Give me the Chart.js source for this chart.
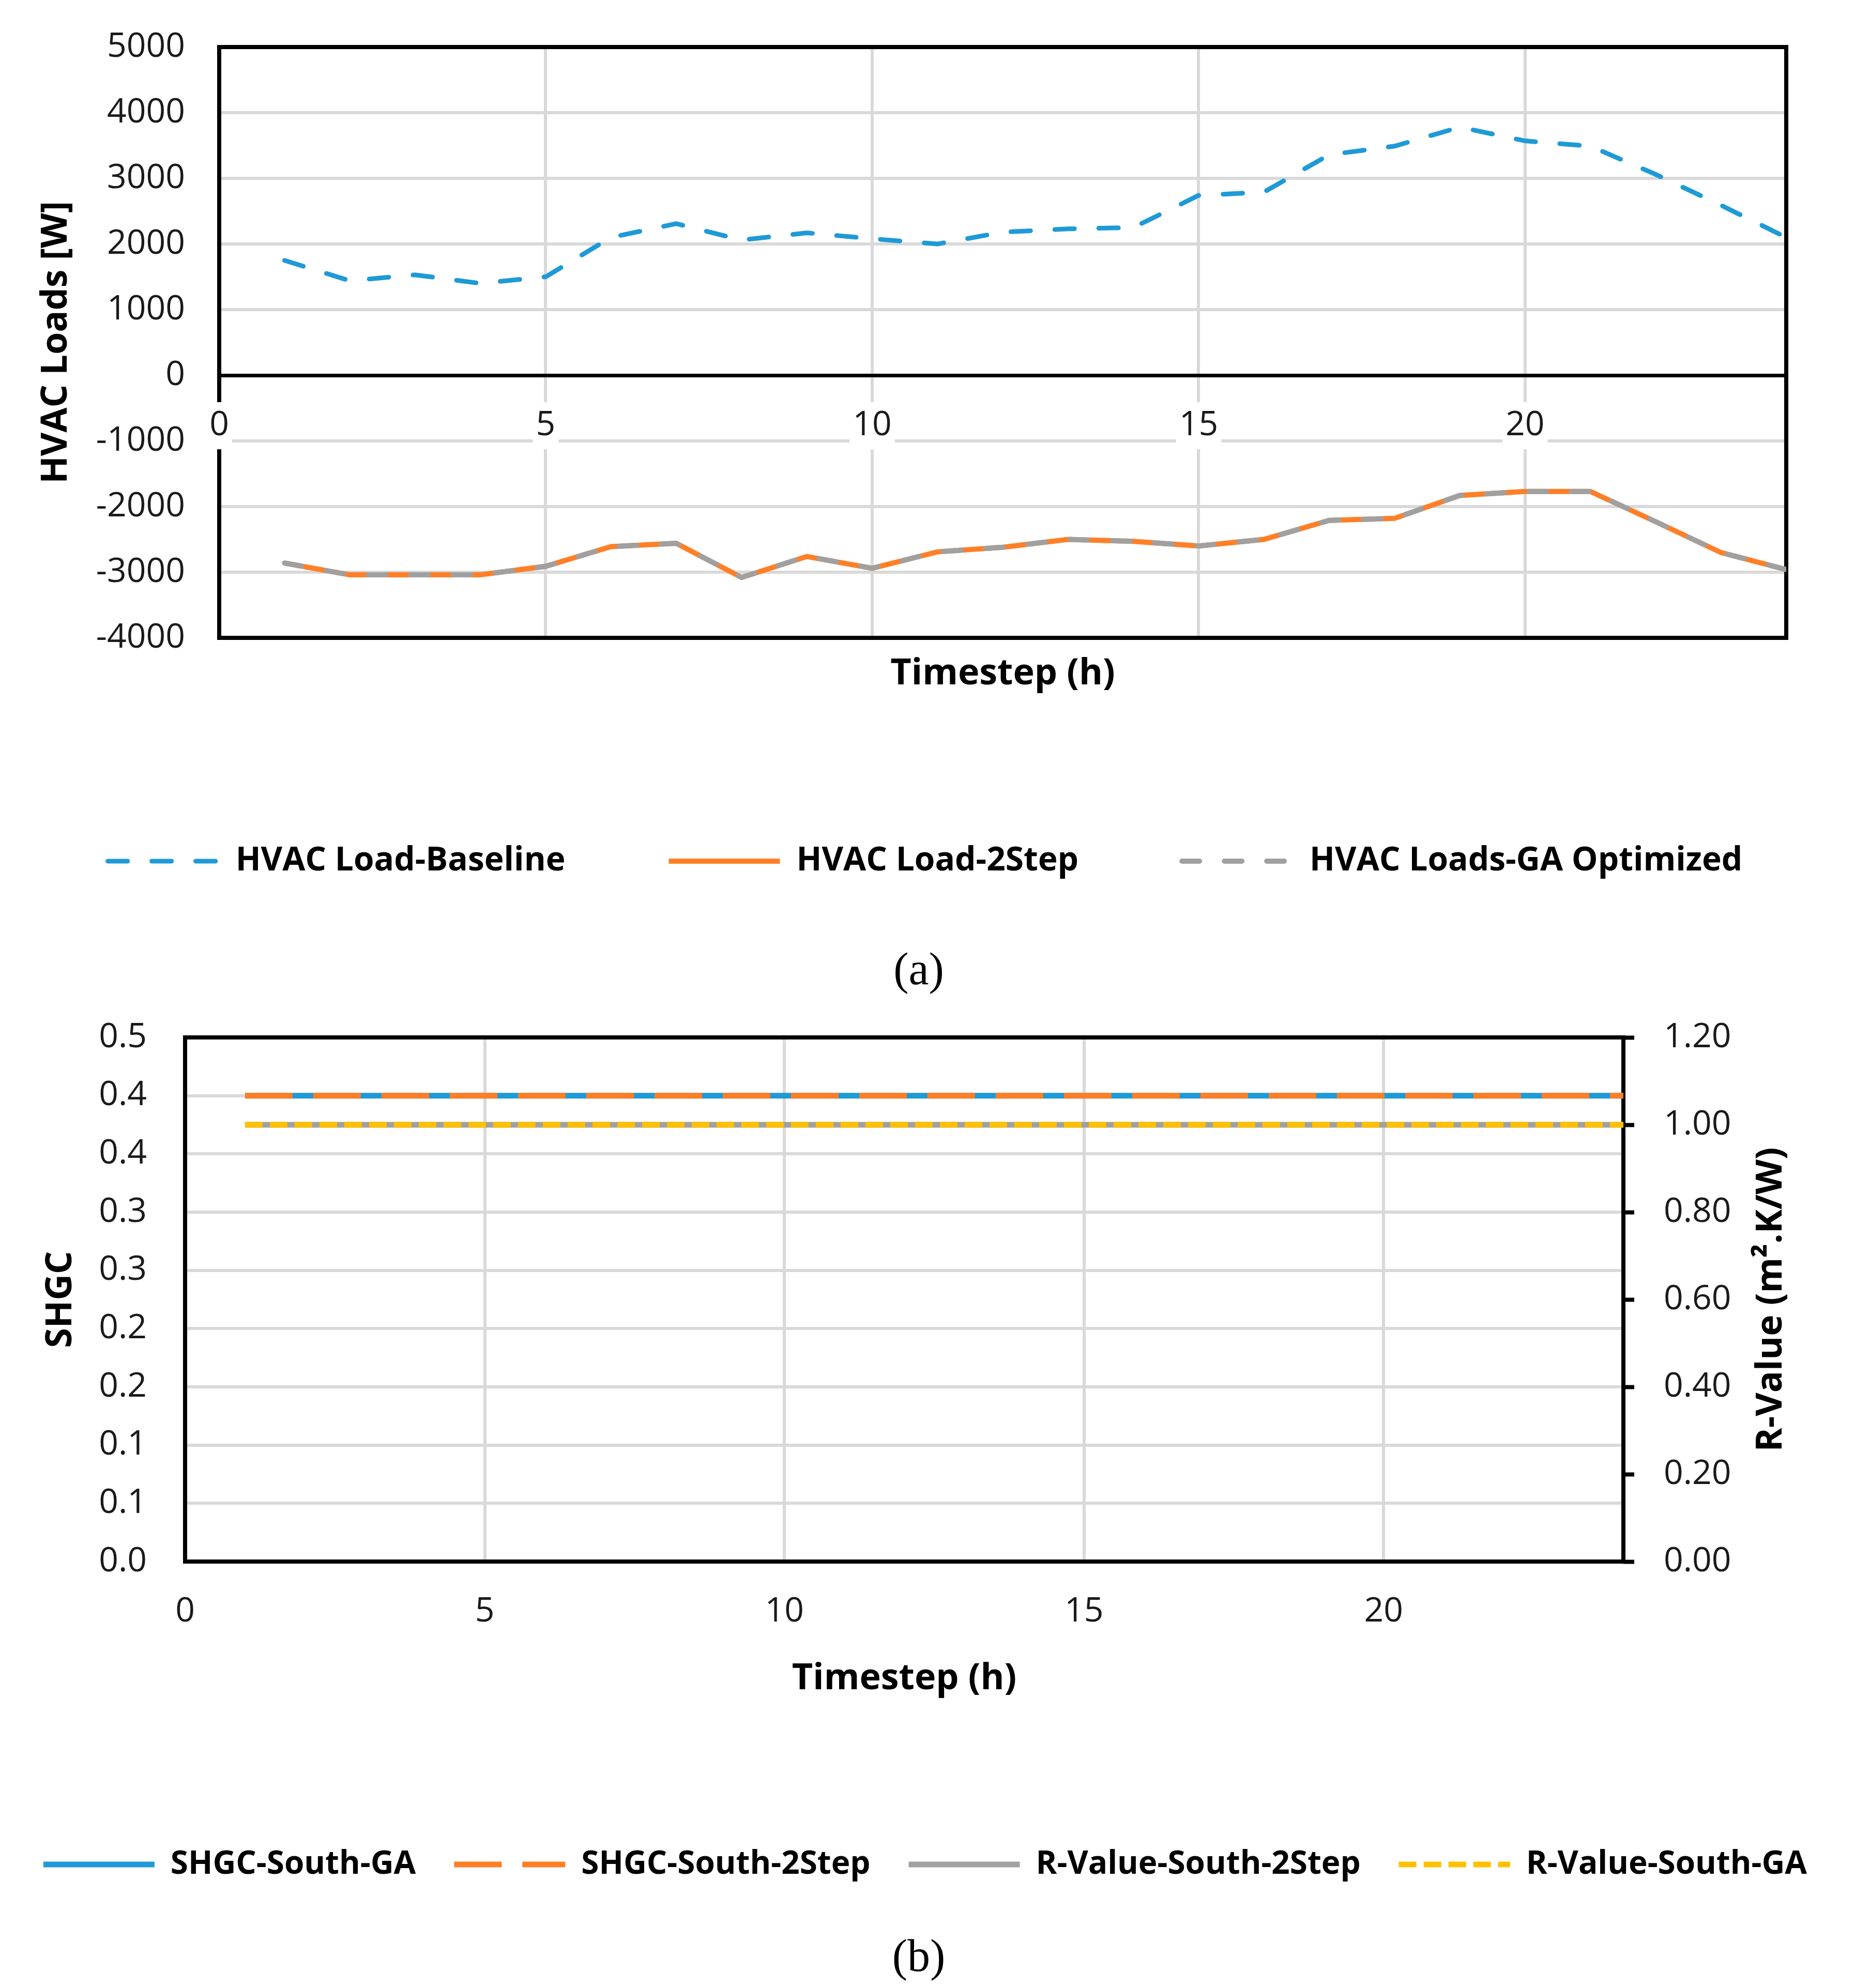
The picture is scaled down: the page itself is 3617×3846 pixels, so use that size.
<!DOCTYPE html>
<html>
<head>
<meta charset="utf-8">
<script src="https://cdn.jsdelivr.net/npm/chart.js@4.4.0/dist/chart.umd.min.js"></script>
<style>
  html, body { margin: 0; padding: 0; background: #fff; }
  body { width: 3617px; height: 3846px; position: relative; overflow: hidden; }
  canvas { position: absolute; left: 0; }
  .caption { position: absolute; left: 0; width: 3554px; text-align: center;
             font-family: 'Liberation Serif', serif; font-size: 88px; line-height: 88px; color: #000; }
</style>
</head>
<body>
<canvas id="loadChart" width="3617" height="1708" style="top:0"></canvas>
<div class="caption" style="top:1831px">(a)</div>
<canvas id="envelopeChart" width="3617" height="1718" style="top:1930px"></canvas>
<div class="caption" style="top:3740px">(b)</div>

<script>
// timesteps (h)
const timesteps = [1, 2, 3, 4, 5, 6, 7, 8, 9, 10, 11, 12, 13, 14, 15, 16, 17, 18, 19, 20, 21, 22, 23, 24];

// (a) HVAC loads [W]
const loadBaseline = [1750, 1440, 1530, 1400, 1500, 2100, 2310, 2060, 2170, 2080, 2000, 2180,
                      2230, 2250, 2740, 2790, 3360, 3490, 3780, 3570, 3490, 3060, 2590, 2100];
const load2Step = [-2860, -3040, -3040, -3040, -2910, -2610, -2560, -3080, -2760, -2940, -2690, -2620,
                   -2500, -2530, -2600, -2500, -2210, -2180, -1830, -1770, -1770, -2230, -2700, -2960];
const loadGA = [-2860, -3040, -3040, -3040, -2910, -2610, -2560, -3080, -2760, -2940, -2690, -2620,
                -2500, -2530, -2600, -2500, -2210, -2180, -1830, -1770, -1770, -2230, -2700, -2960];

// (b) SHGC / R-value
const shgcSouthGA = [0.4, 0.4, 0.4, 0.4, 0.4, 0.4, 0.4, 0.4, 0.4, 0.4, 0.4, 0.4,
                     0.4, 0.4, 0.4, 0.4, 0.4, 0.4, 0.4, 0.4, 0.4, 0.4, 0.4, 0.4];
const shgcSouth2Step = [0.4, 0.4, 0.4, 0.4, 0.4, 0.4, 0.4, 0.4, 0.4, 0.4, 0.4, 0.4,
                        0.4, 0.4, 0.4, 0.4, 0.4, 0.4, 0.4, 0.4, 0.4, 0.4, 0.4, 0.4];
const rValueSouth2Step = [1.0, 1.0, 1.0, 1.0, 1.0, 1.0, 1.0, 1.0, 1.0, 1.0, 1.0, 1.0,
                          1.0, 1.0, 1.0, 1.0, 1.0, 1.0, 1.0, 1.0, 1.0, 1.0, 1.0, 1.0];
const rValueSouthGA = [1.0, 1.0, 1.0, 1.0, 1.0, 1.0, 1.0, 1.0, 1.0, 1.0, 1.0, 1.0,
                       1.0, 1.0, 1.0, 1.0, 1.0, 1.0, 1.0, 1.0, 1.0, 1.0, 1.0, 1.0];

// tick labels (Excel rounds the 0.05 steps to one decimal)
const shgcTickLabels = ['0.0', '0.1', '0.1', '0.2', '0.2', '0.3', '0.3', '0.4', '0.4', '0.5'];
const rValueTickLabels = ['0.00', '0.20', '0.40', '0.60', '0.80', '1.00', '1.20'];

const BLUE = '#1e9ad6';
const ORANGE = '#ff7f27';
const GRAY = '#a0a0a0';
const YELLOW = '#ffc000';
const GRID = '#d9d9d9';
const TICK_FONT = { size: 66 };

Chart.defaults.font.family = "'Open Sans', sans-serif";
Chart.defaults.color = '#1a1a1a';

function points(values) {
    return timesteps.map((t, i) => ({ x: t, y: values[i] }));
}

// fixed axis width, and no extra room for the end labels
function fixWidth(w) {
    return s => { s.width = w; s.paddingTop = 0; s.paddingBottom = 0; };
}

// black frame round the plot area
const framePlugin = {
    id: 'frame',
    beforeDatasetsDraw(chart) {
        const { ctx, chartArea: a } = chart;
        ctx.save();
        ctx.strokeStyle = '#000';
        ctx.lineWidth = 8;
        ctx.strokeRect(a.left, a.top, a.right - a.left, a.bottom - a.top);
        ctx.restore();
    }
};

// right axis title, read from bottom to top like the left one
const sideTitlePlugin = {
    id: 'sideTitle',
    afterDraw(chart, args, opts) {
        if (!opts.text) return;
        const { ctx, chartArea: a } = chart;
        ctx.save();
        ctx.translate(opts.x, (a.top + a.bottom) / 2);
        ctx.rotate(-Math.PI / 2);
        ctx.font = "bold 70px 'Open Sans', sans-serif";
        ctx.fillStyle = '#000';
        ctx.textAlign = 'center';
        ctx.textBaseline = 'middle';
        ctx.fillText(opts.text, 0, 0);
        ctx.restore();
    }
};

function legendOptions(padding, fontSize) {
    return {
        position: 'bottom',
        labels: {
            usePointStyle: true,
            pointStyle: 'line',
            pointStyleWidth: 215,
            padding: padding,
            color: '#000',
            font: { size: fontSize, weight: 'bold' },
            generateLabels: chart => chart.data.datasets.map((ds, i) => ({
                text: ds.label,
                strokeStyle: ds.borderColor,
                fillStyle: ds.borderColor,
                fontColor: '#000',
                lineWidth: ds.borderWidth,
                lineDash: ds.borderDash || [],
                lineCap: ds.borderCapStyle || 'butt',
                pointStyle: 'line',
                hidden: false,
                datasetIndex: i
            }))
        }
    };
}

const lineDefaults = { pointRadius: 0, pointHoverRadius: 0, tension: 0, fill: false };

// (a) HVAC loads
new Chart(document.getElementById('loadChart'), {
    type: 'line',
    data: {
        datasets: [
            { ...lineDefaults, label: 'HVAC Load-Baseline', data: points(loadBaseline),
              borderColor: BLUE, borderWidth: 9, borderDash: [38, 47], borderCapStyle: 'round', order: 0 },
            { ...lineDefaults, label: 'HVAC Load-2Step', data: points(load2Step),
              borderColor: ORANGE, borderWidth: 10, order: 2 },
            { ...lineDefaults, label: 'HVAC Loads-GA Optimized', data: points(loadGA),
              borderColor: GRAY, borderWidth: 10, borderDash: [34, 48], borderCapStyle: 'round', order: 1 }
        ]
    },
    options: {
        responsive: false,
        animation: false,
        devicePixelRatio: 1,
        layout: { padding: { top: 91, left: 0, right: 38, bottom: 0 } },
        plugins: {
            legend: legendOptions(200, 64),
            tooltip: { enabled: false }
        },
        scales: {
            x: {
                type: 'linear', position: { y: 0 }, min: 0, max: 24,
                ticks: { stepSize: 5, includeBounds: false, padding: 58, font: TICK_FONT,
                         showLabelBackdrop: true, backdropColor: '#fff', backdropPadding: 6, z: 1 },
                grid: { color: GRID, lineWidth: 6, drawTicks: false },
                border: { display: true, color: '#000', width: 7 }
            },
            xTitle: {
                axis: 'x', type: 'linear', position: 'bottom', min: 0, max: 24,
                ticks: { display: false }, grid: { display: false }, border: { display: false },
                title: { display: true, text: 'Timestep (h)', color: '#000',
                         font: { size: 70, weight: 'bold' }, padding: { top: 0, bottom: 88 } },
                afterFit: s => { s.height = 200; }
            },
            y: {
                type: 'linear', min: -4000, max: 5000,
                ticks: { stepSize: 1000, padding: 66, font: TICK_FONT, callback: v => String(v) },
                grid: { color: GRID, lineWidth: 6, drawTicks: false },
                border: { display: false },
                title: { display: true, text: 'HVAC Loads [W]', color: '#000',
                         font: { size: 70, weight: 'bold' }, padding: { top: 67, bottom: 0 } },
                afterFit: fixWidth(424)
            },
            yRight: {
                axis: 'y', type: 'linear', position: 'right',
                ticks: { display: false }, grid: { display: false }, border: { display: false },
                afterFit: fixWidth(124)
            }
        }
    },
    plugins: [framePlugin]
});

// (b) SHGC and R-value
new Chart(document.getElementById('envelopeChart'), {
    type: 'line',
    data: {
        datasets: [
            { ...lineDefaults, label: 'SHGC-South-GA', data: points(shgcSouthGA),
              borderColor: BLUE, borderWidth: 11, yAxisID: 'y', order: 2 },
            { ...lineDefaults, label: 'SHGC-South-2Step', data: points(shgcSouth2Step),
              borderColor: ORANGE, borderWidth: 11, borderDash: [92, 40], yAxisID: 'y', order: 1 },
            { ...lineDefaults, label: 'R-Value-South-2Step', data: points(rValueSouth2Step),
              borderColor: GRAY, borderWidth: 11, yAxisID: 'y2', order: 4 },
            { ...lineDefaults, label: 'R-Value-South-GA', data: points(rValueSouthGA),
              borderColor: YELLOW, borderWidth: 11, borderDash: [34, 14], yAxisID: 'y2', order: 3 }
        ]
    },
    options: {
        responsive: false,
        animation: false,
        devicePixelRatio: 1,
        layout: { padding: { top: 77, left: 0, right: 38, bottom: 0 } },
        plugins: {
            legend: legendOptions(74, 62),
            tooltip: { enabled: false },
            sideTitle: { text: 'R-Value (m\u00B2.K/W)', x: 3426 }
        },
        scales: {
            x: {
                type: 'linear', position: 'bottom', min: 0, max: 24,
                ticks: { stepSize: 5, includeBounds: false, padding: 58, font: TICK_FONT },
                grid: { color: GRID, lineWidth: 6, drawTicks: false },
                border: { display: false },
                title: { display: true, text: 'Timestep (h)', color: '#000',
                         font: { size: 70, weight: 'bold' }, padding: { top: 0, bottom: 212 } },
                afterFit: s => { s.height = 481; }
            },
            y: {
                type: 'linear', position: 'left', min: 0, max: 0.45,
                ticks: { stepSize: 0.05, padding: 74, font: TICK_FONT,
                         callback: (v, i) => shgcTickLabels[i] },
                grid: { color: GRID, lineWidth: 6, drawTicks: false },
                border: { display: false },
                title: { display: true, text: 'SHGC', color: '#000',
                         font: { size: 70, weight: 'bold' }, padding: { top: 76, bottom: 0 } },
                afterFit: fixWidth(358)
            },
            y2: {
                type: 'linear', position: 'right', min: 0, max: 1.2,
                ticks: { stepSize: 0.2, padding: 57, font: TICK_FONT,
                         callback: (v, i) => rValueTickLabels[i] },
                grid: { drawOnChartArea: false, drawTicks: true, tickLength: 21,
                        tickColor: '#000', tickWidth: 8 },
                border: { display: false },
                afterFit: fixWidth(439)
            }
        }
    },
    plugins: [framePlugin, sideTitlePlugin]
});
</script>
</body>
</html>
